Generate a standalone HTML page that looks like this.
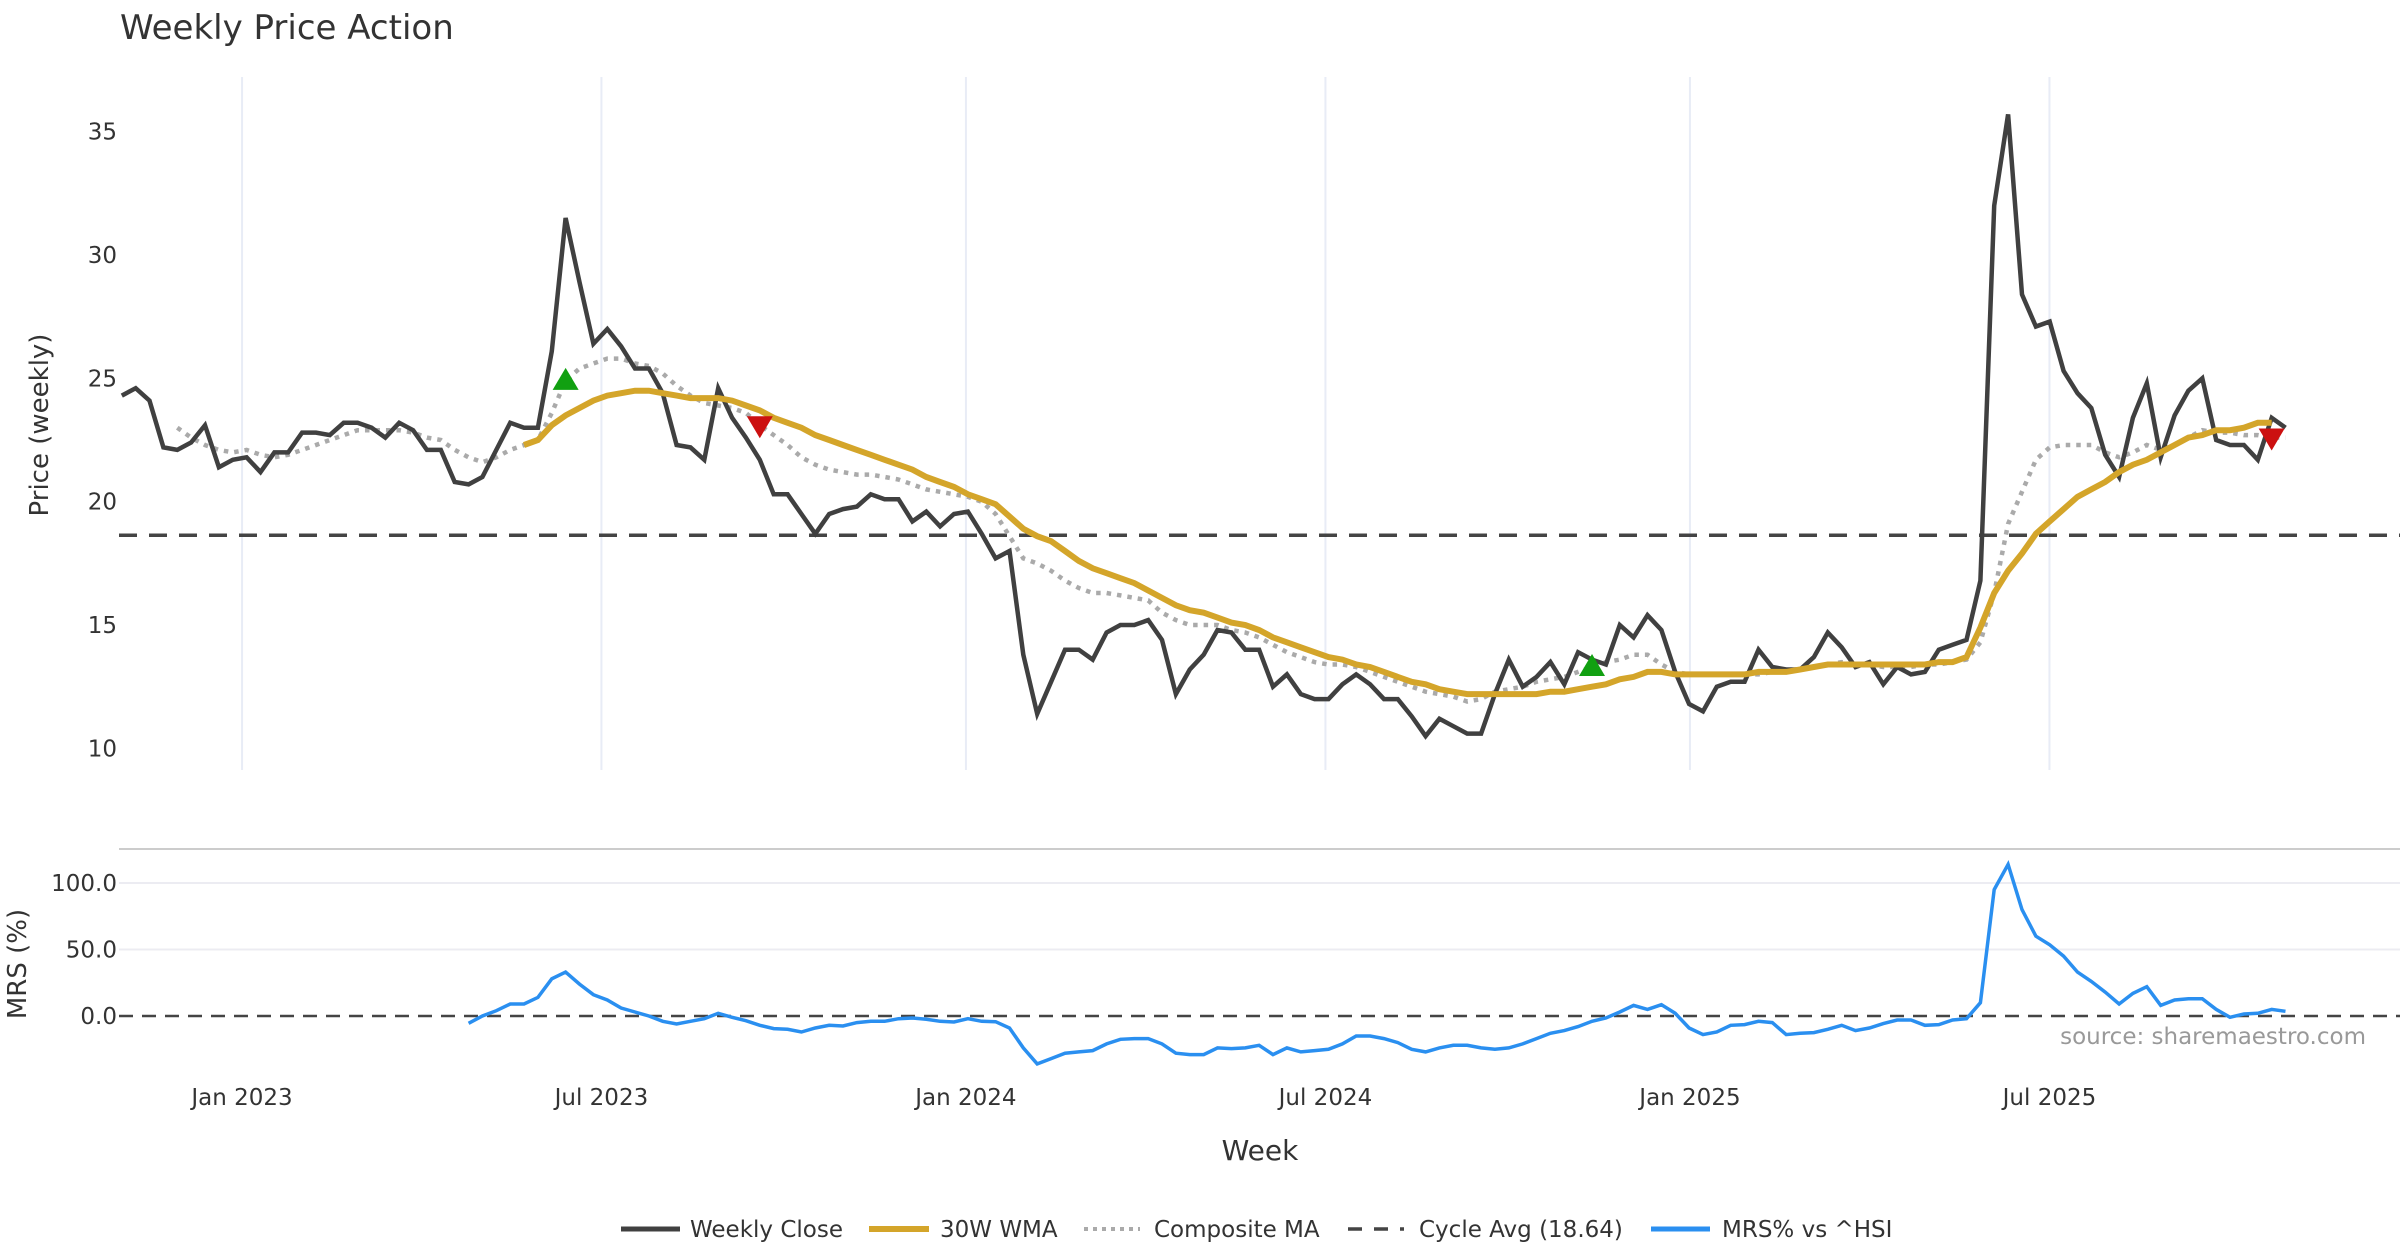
<!DOCTYPE html>
<html><head><meta charset="utf-8"><style>
html,body{margin:0;padding:0;background:#fff;}
svg{display:block;font-family:"DejaVu Sans","Liberation Sans",sans-serif;}
</style></head><body>
<svg id="chart" width="2400" height="1260" viewBox="0 0 2400 1260" xmlns="http://www.w3.org/2000/svg">
<rect x="0" y="0" width="2400" height="1260" fill="#fff"/>
<text x="120" y="39" font-size="34" fill="#333">Weekly Price Action</text>
<g id="grid"></g>
<g id="series"></g>
<g id="axes"></g>
<text transform="translate(48,425) rotate(-90)" text-anchor="middle" font-size="26" fill="#333">Price (weekly)</text>
<text transform="translate(26,964) rotate(-90)" text-anchor="middle" font-size="26" fill="#333">MRS (%)</text>
<text x="1260" y="1160" text-anchor="middle" font-size="28" fill="#333">Week</text>
<text x="2366" y="1044" text-anchor="end" font-size="23" fill="#999">source: sharemaestro.com</text>
<g id="legend">
<line x1="621" y1="1229" x2="680" y2="1229" stroke="#404040" stroke-width="5"/>
<text x="690" y="1237" font-size="23" fill="#333">Weekly Close</text>
<line x1="869" y1="1229" x2="929" y2="1229" stroke="#d4a52a" stroke-width="6"/>
<text x="940" y="1237" font-size="23" fill="#333">30W WMA</text>
<line x1="1084" y1="1229" x2="1140" y2="1229" stroke="#aaa" stroke-width="4" stroke-dasharray="4,5"/>
<text x="1154" y="1237" font-size="23" fill="#333">Composite MA</text>
<line x1="1348" y1="1229" x2="1404" y2="1229" stroke="#444" stroke-width="3.5" stroke-dasharray="14,12"/>
<text x="1419" y="1237" font-size="23" fill="#333">Cycle Avg (18.64)</text>
<line x1="1651" y1="1229" x2="1710" y2="1229" stroke="#2a8ff0" stroke-width="5"/>
<text x="1722" y="1237" font-size="23" fill="#333">MRS% vs ^HSI</text>
</g>
</svg>
<script>
const closeVals = [24.3,24.6,24.1,22.2,22.1,22.4,23.1,21.4,21.7,21.8,21.2,22.0,22.0,22.8,22.8,22.7,23.2,23.2,23.0,22.6,23.2,22.9,22.1,22.1,20.8,20.7,21.0,22.1,23.2,23.0,23.0,26.1,31.5,28.9,26.4,27.0,26.3,25.4,25.4,24.4,22.3,22.2,21.7,24.6,23.4,22.6,21.7,20.3,20.3,19.5,18.7,19.5,19.7,19.8,20.3,20.1,20.1,19.2,19.6,19.0,19.5,19.6,18.7,17.7,18.0,13.8,11.4,12.7,14.0,14.0,13.6,14.7,15.0,15.0,15.2,14.4,12.2,13.2,13.8,14.8,14.7,14.0,14.0,12.5,13.0,12.2,12.0,12.0,12.6,13.0,12.6,12.0,12.0,11.3,10.5,11.2,10.9,10.6,10.6,12.2,13.6,12.5,12.9,13.5,12.6,13.9,13.6,13.4,15.0,14.5,15.4,14.8,13.1,11.8,11.5,12.5,12.7,12.7,14.0,13.3,13.2,13.2,13.7,14.7,14.1,13.3,13.5,12.6,13.3,13.0,13.1,14.0,14.2,14.4,16.8,32.0,35.7,28.4,27.1,27.3,25.3,24.4,23.8,21.9,21.0,23.4,24.8,21.8,23.5,24.5,25.0,22.5,22.3,22.3,21.7,23.4,23.0];
const wmaStart = 29;
const wmaVals = [22.3,22.5,23.1,23.5,23.8,24.1,24.3,24.4,24.5,24.5,24.4,24.3,24.2,24.2,24.2,24.1,23.9,23.7,23.4,23.2,23.0,22.7,22.5,22.3,22.1,21.9,21.7,21.5,21.3,21.0,20.8,20.6,20.3,20.1,19.9,19.4,18.9,18.6,18.4,18.0,17.6,17.3,17.1,16.9,16.7,16.4,16.1,15.8,15.6,15.5,15.3,15.1,15.0,14.8,14.5,14.3,14.1,13.9,13.7,13.6,13.4,13.3,13.1,12.9,12.7,12.6,12.4,12.3,12.2,12.2,12.2,12.2,12.2,12.2,12.3,12.3,12.4,12.5,12.6,12.8,12.9,13.1,13.1,13.0,13.0,13.0,13.0,13.0,13.0,13.1,13.1,13.1,13.2,13.3,13.4,13.4,13.4,13.4,13.4,13.4,13.4,13.4,13.5,13.5,13.7,14.9,16.3,17.2,17.9,18.7,19.2,19.7,20.2,20.5,20.8,21.2,21.5,21.7,22.0,22.3,22.6,22.7,22.9,22.9,23.0,23.2,23.2];
const compStart = 4;
const compVals = [23.0,22.6,22.3,22.1,22.0,22.1,21.9,21.8,21.9,22.1,22.3,22.5,22.7,22.9,22.9,22.9,22.9,22.8,22.6,22.5,22.1,21.8,21.6,21.8,22.1,22.3,22.5,23.6,24.9,25.4,25.6,25.8,25.8,25.6,25.5,25.2,24.7,24.3,24.0,23.9,23.8,23.6,23.1,22.7,22.3,21.8,21.5,21.3,21.2,21.1,21.1,21.0,20.9,20.7,20.5,20.4,20.3,20.2,20.0,19.5,18.6,17.7,17.5,17.2,16.8,16.5,16.3,16.3,16.2,16.1,16.0,15.5,15.2,15.0,15.0,15.0,14.8,14.7,14.5,14.2,13.9,13.7,13.5,13.4,13.4,13.3,13.1,12.9,12.7,12.5,12.3,12.2,12.1,11.9,12.0,12.3,12.4,12.5,12.7,12.8,12.9,13.1,13.3,13.5,13.6,13.8,13.8,13.4,13.1,13.0,13.0,13.0,13.0,13.0,13.0,13.1,13.1,13.2,13.3,13.4,13.5,13.4,13.4,13.3,13.3,13.3,13.4,13.4,13.5,13.6,14.3,16.3,19.1,20.4,21.7,22.2,22.3,22.3,22.3,22.0,21.8,22.0,22.3,22.1,22.3,22.6,22.9,22.8,22.8,22.7,22.7,22.6,22.6];
const mrsStart = 25;
const mrsVals = [-5.5,0,4,9,9,14,28,33,24,16,12,6,3,0,-4,-6,-4,-2,2,-1,-3.5,-7,-9.5,-10,-12,-9,-7,-7.5,-5,-4,-4,-2,-1.5,-2.5,-4,-4.5,-2,-4,-4.3,-9,-24,-36,-32,-28,-27,-26,-21,-17.5,-17,-17,-21,-28,-29,-29,-24,-24.5,-24,-22,-29,-24,-27,-26,-25,-21,-15,-15,-17,-20,-25,-27,-24,-22,-22,-24,-25,-24,-21,-17,-13,-11,-8,-4,-1.5,3,8,5,8.5,2,-9,-14,-12,-7,-6.5,-4,-5,-14,-13,-12.5,-10,-7,-11,-9,-5.7,-3,-3,-7,-6.5,-3,-2,10,95,114,80,60,53.5,45,33,26,18,9,17,22,8,12,13,13,5,-1,1.5,2,5,3.5];
const buySignals = [32, 106];
const sellSignals = [46, 155];
const cycleAvg = 18.64;
const priceTicks = [10,15,20,25,30,35];
const mrsTicks = [0,50,100];
const xTickLabels = ["Jan 2023","Jul 2023","Jan 2024","Jul 2024","Jan 2025","Jul 2025"];
const xTickWeeks = [8.67,34.58,60.86,86.78,113.06,138.98];

const NS = "http://www.w3.org/2000/svg";
const X0 = 121.8, WEEK = 13.87;
function xs(i){ return X0 + i*WEEK; }
function yp(v){ return 748.4 - (v-10)*24.67; }
function ym(v){ return 1016 - v*1.33; }
function mk(tag, attrs, parent){ const e=document.createElementNS(NS,tag); for(const k in attrs) e.setAttribute(k,attrs[k]); parent.appendChild(e); return e; }
const grid=document.getElementById('grid'), ser=document.getElementById('series'), axes=document.getElementById('axes');

xTickWeeks.forEach((w,k)=>{
  const g=mk('line',{x1:xs(w),x2:xs(w),y1:77,y2:770,stroke:'#e8ecf6','stroke-width':2},grid);
  
  
  const t=mk('text',{x:xs(w),y:1105,'text-anchor':'middle','font-size':23,fill:'#333'},axes);
  t.textContent=xTickLabels[k];
  
  
});
priceTicks.forEach(v=>{
  const t=mk('text',{x:117,y:yp(v)+8,'text-anchor':'end','font-size':23,fill:'#333'},axes);
  t.textContent=v;
  
  
});
const sep=mk('line',{x1:119,x2:2400,y1:849,y2:849,stroke:'#ccc','stroke-width':2},grid);


mrsTicks.forEach(v=>{
  if(v!==0){
    const g=mk('line',{x1:119,x2:2400,y1:ym(v),y2:ym(v),stroke:'#ececf2','stroke-width':2},grid);
    
    
  }
  const t=mk('text',{x:117,y:ym(v)+8,'text-anchor':'end','font-size':23,fill:'#333'},axes);
  t.textContent=v.toFixed(1);
  
  
});
const zl=mk('line',{x1:119,x2:2400,y1:ym(0),y2:ym(0),stroke:'#444','stroke-width':2.5,'stroke-dasharray':'14,9'},ser);



const cy=mk('line',{x1:119,x2:2400,y1:yp(cycleAvg),y2:yp(cycleAvg),stroke:'#444','stroke-width':3.5,'stroke-dasharray':'18,12'},ser);



function pathOf(vals,start,yf){ return vals.map((v,k)=>(k?'L':'M')+xs(start+k).toFixed(1)+','+yf(v).toFixed(1)).join(' '); }
const comp=mk('path',{d:pathOf(compVals,compStart,yp),fill:'none',stroke:'#aaa','stroke-width':4.5,'stroke-dasharray':'4.5,6'},ser);


const cl=mk('path',{d:pathOf(closeVals,0,yp),fill:'none',stroke:'#404040','stroke-width':4.5,'stroke-linejoin':'miter'},ser);


const wma=mk('path',{d:pathOf(wmaVals,wmaStart,yp),fill:'none',stroke:'#d4a52a','stroke-width':6},ser);


const mrs=mk('path',{d:pathOf(mrsVals,mrsStart,ym),fill:'none',stroke:'#2a8ff0','stroke-width':3.5},ser);



function valAt(i){
  const c=compVals[i-compStart];
  if(c!==undefined) return c;
  const w=wmaVals[i-wmaStart];
  return (w!==undefined)?w:closeVals[i];
}
buySignals.forEach(i=>{
  const x=xs(i), y=yp(valAt(i));
  const p=mk('polygon',{points:`${x-13},${y+9} ${x+13},${y+9} ${x},${y-13}`,fill:'#11a011'},ser);
  
  
});
sellSignals.forEach(i=>{
  const x=xs(i), y=yp(valAt(i));
  const p=mk('polygon',{points:`${x-13},${y-9} ${x+13},${y-9} ${x},${y+13}`,fill:'#cc1010'},ser);
  
  
});
</script>
</body></html>
